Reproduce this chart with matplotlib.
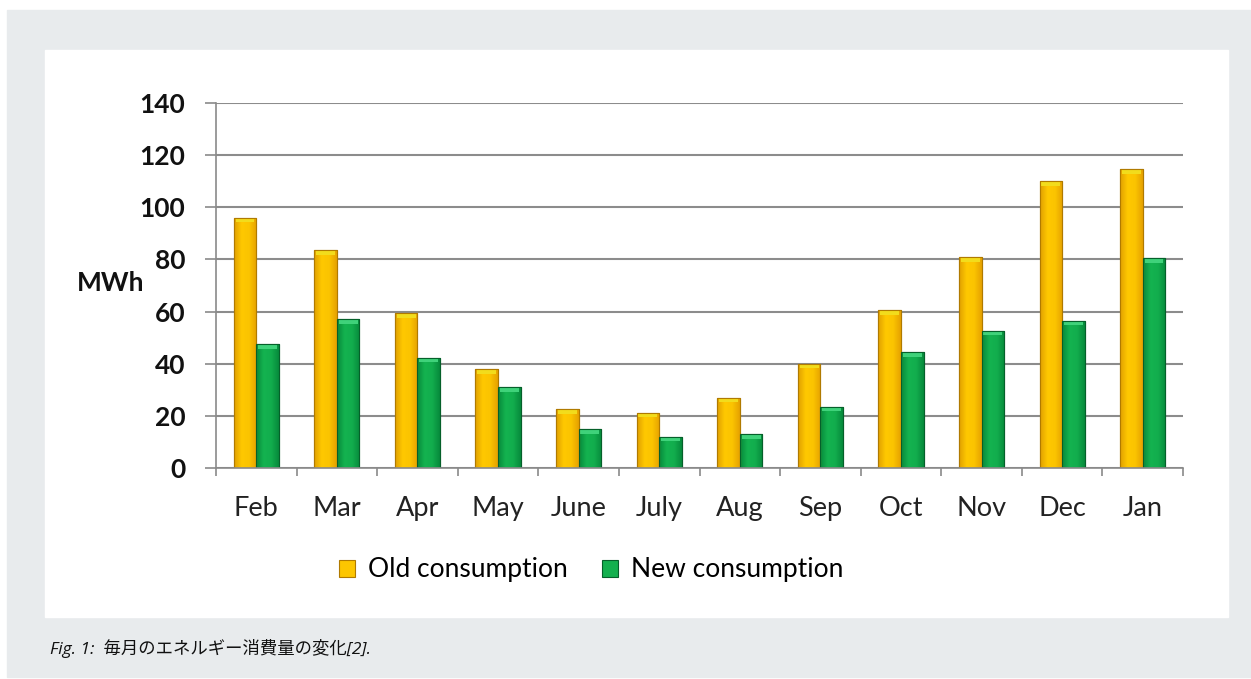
import numpy as np
import matplotlib.pyplot as plt
from matplotlib.patches import Rectangle
from matplotlib.colors import LinearSegmentedColormap

months = ["Feb", "Mar", "Apr", "May", "June", "July",
          "Aug", "Sep", "Oct", "Nov", "Dec", "Jan"]
old_consumption = [96, 83.5, 59.5, 38, 22.5, 21.2, 27, 40, 60.5, 81, 110, 114.5]
new_consumption = [47.5, 57, 42.3, 31, 15, 12, 13, 23.5, 44.5, 52.7, 56.5, 80.5]
yticks = [0, 20, 40, 60, 80, 100, 120, 140]

W, H = 1251, 679
fig = plt.figure(figsize=(W / 100, H / 100), dpi=100, facecolor="white")

# grey frame and white chart panel (pixel boxes -> figure fractions)
def px_rect(x0, y0, x1, y1, color):
    fig.patches.append(Rectangle((x0 / W, 1 - y1 / H), (x1 - x0) / W, (y1 - y0) / H,
                                 transform=fig.transFigure, color=color, zorder=-10))

px_rect(7, 10, W, 677, "#e8ebed")
px_rect(45, 50, 1228, 617, "white")

ax = fig.add_axes([216 / W, 1 - 468 / H, (1183 - 216) / W, (468 - 103) / H])
ax.set_facecolor("none")

x = np.arange(len(months))
w = 0.28
old_cmap = LinearSegmentedColormap.from_list("old", ["#e0a000", "#ffc800", "#fbc400", "#e6a200"])
new_cmap = LinearSegmentedColormap.from_list("new", ["#07893b", "#14b350", "#12ad4d", "#078a3c"])
grad = np.linspace(0, 1, 64).reshape(1, -1)

def shaded_bars(xs, vals, cmap, edge, cap, label):
    bars = ax.bar(xs, vals, w, color=cmap(0.5), edgecolor=edge, linewidth=0.8,
                  zorder=3, label=label)
    for b in bars:
        x0, y0 = b.get_x(), b.get_y()
        bw, bh = b.get_width(), b.get_height()
        im = ax.imshow(grad, cmap=cmap, aspect="auto", zorder=3.5,
                       extent=(x0, x0 + bw, y0, y0 + bh), interpolation="bicubic")
        im.set_clip_path(b)
        cap_h = min(1.8, bh)
        ax.add_patch(Rectangle((x0 + bw * 0.08, y0 + bh - cap_h), bw * 0.84, cap_h,
                               color=cap, zorder=4, linewidth=0))
        ax.add_patch(Rectangle((x0, y0), bw, bh, fill=False, edgecolor=edge,
                               linewidth=0.8, zorder=4.5))

shaded_bars(x - w / 2, old_consumption, old_cmap, "#b07a00", "#f2dc1c", "Old consumption")
shaded_bars(x + w / 2, new_consumption, new_cmap, "#05602a", "#3fd27a", "New consumption")

ax.set_xlim(-0.5, len(months) - 0.5)
ax.set_ylim(0, 140)
ax.set_yticks(yticks)
ax.set_yticklabels([str(v) for v in yticks], fontsize=19, fontweight="bold",
                   family="Lato", color="#111111")
ax.set_xticks(x)
ax.set_xticklabels(months, fontsize=19.5, family="Lato", color="#222222")
ax.set_xticks(np.arange(-0.5, len(months)), minor=True)
ax.tick_params(axis="x", which="major", length=0, pad=20)
ax.tick_params(axis="x", which="minor", length=6, width=1.2, color="#8a8a8a")
ax.tick_params(axis="y", length=8, width=1.2, color="#8a8a8a", pad=14)

ax.grid(axis="y", color="#8c8c8c", linewidth=1.5, zorder=0)
for s in ["top", "right"]:
    ax.spines[s].set_visible(False)
ax.spines["left"].set_color("#8a8a8a")
ax.spines["bottom"].set_color("#8a8a8a")
ax.spines["left"].set_linewidth(1.2)
ax.spines["bottom"].set_linewidth(1.2)
ax.spines["left"].set_zorder(5)
ax.spines["bottom"].set_zorder(5)

fig.text(111 / W, 1 - 283 / H, "MWh", ha="center", va="center", fontsize=19,
         fontweight="bold", family="Lato", color="#111111")

fig.legend(loc="center", bbox_to_anchor=(591 / W, 1 - 570 / H), ncol=2, frameon=False,
           prop={"family": "Lato", "size": 19}, handlelength=0.6, handleheight=0.6,
           handletextpad=0.5, columnspacing=1.3)

fig.text(50 / W, 1 - 648 / H, "Fig. 1:  毎月のエネルギー消費量の変化[2].", ha="left", va="center",
         fontsize=12.5, style="italic", family=["Open Sans", "Noto Sans CJK JP"], color="#111111")

fig.savefig("out.png", dpi=100, facecolor=fig.get_facecolor())
